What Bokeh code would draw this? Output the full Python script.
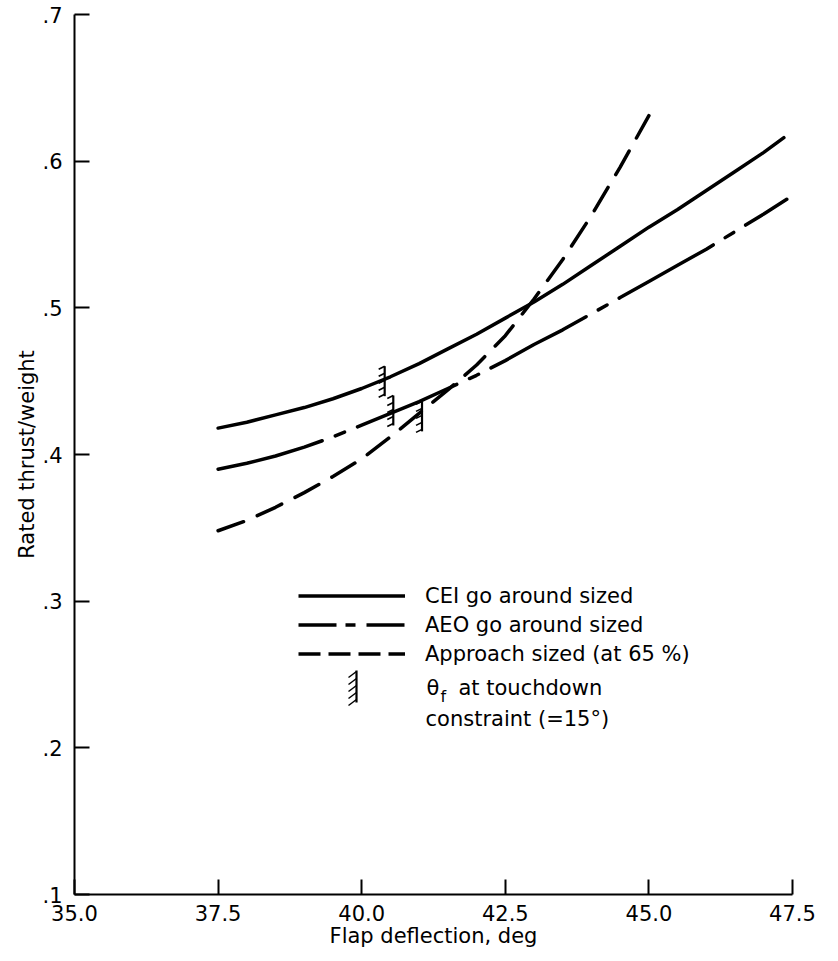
import numpy as np
from bokeh.plotting import figure
from bokeh.models import Range1d, FixedTicker, Legend, LegendItem, Label
from bokeh.embed import file_html
from bokeh.resources import INLINE

# ---------------- data ----------------
cei_deg = [37.5, 38.0, 38.5, 39.0, 39.5, 40.0, 40.5, 41.0, 41.5, 42.0, 42.5, 43.0,
           43.5, 44.0, 44.5, 45.0, 45.5, 46.0, 46.5, 47.0, 47.35]
cei_tw = [0.418, 0.422, 0.427, 0.432, 0.438, 0.445, 0.453, 0.462, 0.472, 0.482, 0.493,
          0.504, 0.516, 0.529, 0.542, 0.555, 0.567, 0.580, 0.593, 0.606, 0.616]

aeo_deg = [37.5, 38.0, 38.5, 39.0, 39.5, 40.0, 40.5, 41.0, 41.5, 42.0, 42.5, 43.0,
           43.5, 44.0, 44.5, 45.0, 45.5, 46.0, 46.5, 47.0, 47.4]
aeo_tw = [0.390, 0.394, 0.399, 0.405, 0.412, 0.420, 0.428, 0.436, 0.445, 0.454, 0.464,
          0.475, 0.485, 0.496, 0.507, 0.518, 0.529, 0.540, 0.552, 0.564, 0.574]

appr_deg = [37.5, 38.0, 38.5, 39.0, 39.5, 40.0, 40.5, 41.0, 41.5, 42.0, 42.5, 43.0,
            43.5, 44.0, 44.5, 45.0]
appr_tw = [0.348, 0.355, 0.364, 0.374, 0.385, 0.397, 0.412, 0.428, 0.444, 0.461, 0.481,
           0.506, 0.533, 0.563, 0.596, 0.631]

constraint_deg = [40.40, 40.55, 41.05]
constraint_tw = [0.450, 0.430, 0.426]

x_ticks = [35.0, 37.5, 40.0, 42.5, 45.0, 47.5]
x_tick_labels = ["35.0", "37.5", "40.0", "42.5", "45.0", "47.5"]
y_ticks = [0.1, 0.2, 0.3, 0.4, 0.5, 0.6, 0.7]
y_tick_labels = [".1", ".2", ".3", ".4", ".5", ".6", ".7"]

legend_labels = ["CEI go around sized", "AEO go around sized", "Approach sized (at 65 %)"]
constraint_text_1 = "at touchdown"
constraint_text_2 = "constraint (=15°)"

# ---------------- layout ----------------
X0, X1 = 35.0, 47.5
Y0, Y1 = 0.1, 0.7
W, H = 830, 953
BL, BR, BT, BB = 74, 38, 14, 59
FW = W - BL - BR
FH = H - BT - BB
sx = (X1 - X0) / FW      # data units per pixel
sy = (Y1 - Y0) / FH
FONT = "DejaVu Sans"


def data_x(px):
    return X0 + (px - BL) * sx


def data_y(py):
    return Y1 - (py - BT) * sy


p = figure(width=W, height=H, output_backend="svg", toolbar_location=None,
           x_range=Range1d(X0, X1), y_range=Range1d(Y0, Y1),
           min_border_left=BL, min_border_right=BR, min_border_top=BT, min_border_bottom=BB)
p.outline_line_color = None
p.grid.visible = False
p.background_fill_color = "white"

# axes
for ax in (p.xaxis[0], p.yaxis[0]):
    ax.axis_line_color = "black"
    ax.axis_line_width = 2
    ax.major_tick_line_color = "black"
    ax.major_tick_line_width = 2
    ax.major_tick_in = 15
    ax.major_tick_out = 0
    ax.minor_tick_line_color = None
    ax.major_label_text_font = FONT
    ax.major_label_text_font_size = "21px"
    ax.major_label_text_color = "black"
    ax.axis_label_text_font = FONT
    ax.axis_label_text_font_style = "normal"
    ax.axis_label_text_color = "black"

p.xaxis.ticker = FixedTicker(ticks=x_ticks)
p.xaxis.major_label_overrides = {t: l for t, l in zip(x_ticks, x_tick_labels)}
p.xaxis.axis_label = "Flap deflection, deg"
p.xaxis.axis_label_text_font_size = "21px"
p.xaxis.major_label_standoff = 10
p.xaxis.axis_label_standoff = 0

p.yaxis.ticker = FixedTicker(ticks=y_ticks)
p.yaxis.major_label_overrides = {t: l for t, l in zip(y_ticks, y_tick_labels)}
p.yaxis.axis_label = "Rated thrust/weight"
p.yaxis.axis_label_text_font_size = "21px"
p.yaxis.major_label_standoff = 12
p.yaxis.axis_label_standoff = 0

# curves
LW = 3.5
p.line(cei_deg, cei_tw, line_color="black", line_width=LW, line_cap="round")
p.line(aeo_deg, aeo_tw, line_color="black", line_width=LW, line_cap="round",
       line_dash="108 14 10 14")
p.line(appr_deg, appr_tw, line_color="black", line_width=LW, line_cap="round",
       line_dash="27 15")

# constraint markers: vertical bar with hatch ticks on its left
cx = np.array(constraint_deg)
cy = np.array(constraint_tw)
half = 15 * sy
p.segment(x0=cx, y0=cy - half, x1=cx, y1=cy + half, line_color="black", line_width=2.2)
hx0, hy0, hx1, hy1 = [], [], [], []
for k in range(5):
    yk = cy + half - k * 7 * sy
    hx0.extend(cx); hy0.extend(yk)
    hx1.extend(cx - 6 * sx); hy1.extend(yk - 3 * sy)
p.segment(x0=hx0, y0=hy0, x1=hx1, y1=hy1, line_color="black", line_width=1.6)

# legend (line samples; renderers hold no visible data)
r1 = p.line(x=[np.nan], y=[np.nan], line_color="black", line_width=LW)
r2 = p.line(x=[np.nan], y=[np.nan], line_color="black", line_width=LW, line_dash="38 9 10 11")
r3 = p.line(x=[np.nan], y=[np.nan], line_color="black", line_width=LW, line_dash="22 8")
legend = Legend(items=[LegendItem(label=legend_labels[0], renderers=[r1]),
                       LegendItem(label=legend_labels[1], renderers=[r2]),
                       LegendItem(label=legend_labels[2], renderers=[r3])],
                location=(298 - BL, (BT + FH) - 668),
                orientation="vertical", padding=0, margin=0, spacing=0,
                glyph_width=107, glyph_height=29, label_height=29, label_standoff=20,
                label_text_font=FONT, label_text_font_size="21px", label_text_color="black",
                border_line_alpha=0, background_fill_alpha=0)
p.add_layout(legend)

# legend entry for the constraint symbol
sym_x = data_x(356)
p.segment(x0=[sym_x], y0=[data_y(702)], x1=[sym_x], y1=[data_y(670)],
          line_color="black", line_width=2.2)
tx0, ty0, tx1, ty1 = [], [], [], []
for k in range(5):
    py = 671 + k * 7
    tx0.append(sym_x); ty0.append(data_y(py))
    tx1.append(data_x(348)); ty1.append(data_y(py + 6))
p.segment(x0=tx0, y0=ty0, x1=tx1, y1=ty1, line_color="black", line_width=1.5)

lab_kw = dict(text_font=FONT, text_color="black", text_baseline="middle", text_align="left")
p.add_layout(Label(x=data_x(426), y=data_y(687), text="θ", text_font_size="21px", **lab_kw))
p.add_layout(Label(x=data_x(440), y=data_y(696), text="f", text_font_size="16px", **lab_kw))
p.add_layout(Label(x=data_x(458), y=data_y(687), text=constraint_text_1, text_font_size="21px", **lab_kw))
p.add_layout(Label(x=data_x(425), y=data_y(718), text=constraint_text_2, text_font_size="21px", **lab_kw))

open("out.html", "w").write(file_html(p, INLINE))
